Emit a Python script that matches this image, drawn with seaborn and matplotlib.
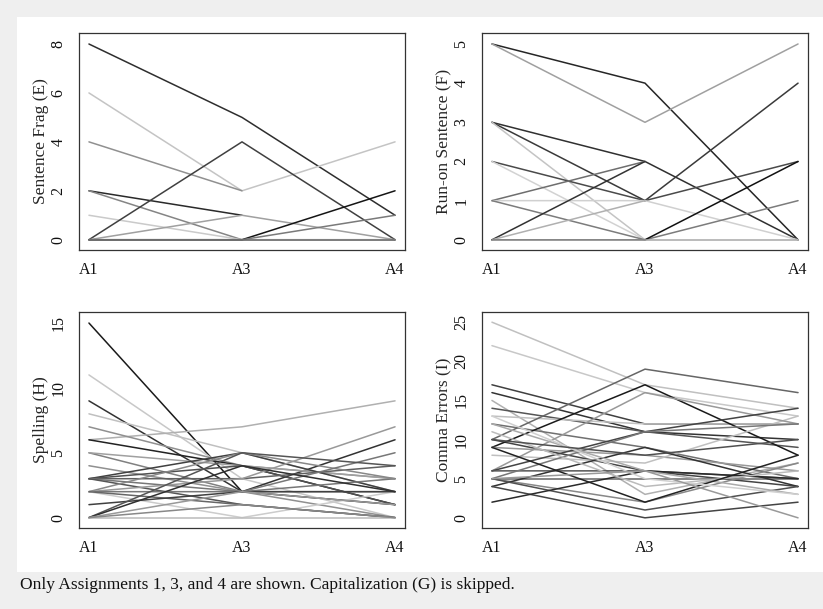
import numpy as np
import pandas as pd
import matplotlib
matplotlib.use("Agg")
import matplotlib.pyplot as plt
from matplotlib.patches import Rectangle
import seaborn as sns

nan = np.nan
assignments = ["A1", "A3", "A4"]

# ---- Sentence Frag (E)
e_a1 = [8, 6, 4, 2, 2, 1, 0, 0, 0, 0, 0]
e_a3 = [5, 2, 2, 1, 0, 0, 4, 1, 0, 0, 0]
e_a4 = [1, 4, nan, nan, 0, 0, 0, 0, 2, 1, 0]
e_col = ["#2e2e2e", "#c4c4c4", "#909090", "#2a2a2a", "#858585", "#cacaca",
         "#404040", "#a0a0a0", "#151515", "#7a7a7a", "#6a6a6a"]

# ---- Run-on Sentence (F)
f_a1 = [5, 5, 3, 3, 3, 2, 2, 1, 1, 1, 0, 0, 0, 0]
f_a3 = [4, 3, 2, 1, 0, 1, 0, 2, 1, 0, 2, 1, 0, 0]
f_a4 = [0, 5, 0, 4, nan, 2, nan, nan, 0, 1, nan, nan, 2, 0]
f_col = ["#262626", "#a0a0a0", "#303030", "#3a3a3a", "#c4c4c4", "#4a4a4a",
         "#d2d2d2", "#6e6e6e", "#d0d0d0", "#7c7c7c", "#333333", "#b0b0b0",
         "#111111", "#a8a8a8"]

# ---- Spelling (H)
h_a1 = [15, 11, 9, 8, 6, 7, 6, 5, 5, 4, 3, 3, 3, 3, 3, 2, 2, 2, 2, 2, 1, 0, 0, 0, 0, 0]
h_a3 = [2, 3, 2, 5, 7, 4, 4, 2, 4, 2, 5, 4, 3, 2, 1, 5, 3, 2, 0, 1, 2, 5, 4, 2, 0, 1]
h_a4 = [1, 0, 6, 2, 9, 3, 1, 2, 3, 0, 2, 1, 4, 3, 0, 3, 7, 5, 2, 0, 2, 4, 2, 1, 0, 0]
h_col = ["#1a1a1a", "#c8c8c8", "#333333", "#c0c0c0", "#b0b0b0", "#909090",
         "#222222", "#808080", "#a0a0a0", "#909090", "#404040", "#505050",
         "#606060", "#777777", "#555555", "#888888", "#999999", "#777777",
         "#cccccc", "#666666", "#404040", "#555555", "#303030", "#999999",
         "#bbbbbb", "#888888"]

# ---- Comma Errors (I)
i_a1 = [25, 22, 17, 16, 15, 14, 13, 12, 10, 10, 9, 9, 8, 6, 6, 6, 5, 5, 5,
        4, 4, 5, 2, 12, 11, 9, 13, 10, 5]
i_a3 = [17, 16, 12, 11, 3, 11, 12, 9, 19, 6, 17, 8, 7, 16, 11, 6, 5, 11, 2,
        9, 0, 1, 6, 6, 4, 2, 5, 8, 6]
i_a4 = [14, 13, 12, 10, 7, 9, 12, 5, 16, 4, 8, 6, 13, 12, 14, 5, 5, 12, 7,
        4, 2, 4, 5, 3, 6, 8, 3, 10, 0]
i_col = ["#c0c0c0", "#c8c8c8", "#404040", "#333333", "#b0b0b0", "#555555",
         "#c0c0c0", "#707070", "#666666", "#444444", "#1a1a1a", "#999999",
         "#c0c0c0", "#999999", "#444444", "#555555", "#666666", "#777777",
         "#888888", "#333333", "#444444", "#505050", "#2a2a2a", "#aaaaaa",
         "#bbbbbb", "#222222", "#d0d0d0", "#505050", "#999999"]

panels = [
    ("Sentence Frag (E)", e_a1, e_a3, e_a4, e_col, [0, 2, 4, 6, 8], (-0.42, 8.45)),
    ("Run-on Sentence (F)", f_a1, f_a3, f_a4, f_col, [0, 1, 2, 3, 4, 5], (-0.26, 5.28)),
    ("Spelling (H)", h_a1, h_a3, h_a4, h_col, [0, 5, 10, 15], (-0.8, 15.85)),
    ("Comma Errors (I)", i_a1, i_a3, i_a4, i_col, [0, 5, 10, 15, 20, 25], (-1.3, 26.3)),
]

sns.set_theme(style="white")
plt.rcParams["font.family"] = ["Liberation Serif", "DejaVu Serif"]

W, H = 823, 609
fig = plt.figure(figsize=(W / 100, H / 100), dpi=100, facecolor="#efefef")
fig.patches.append(Rectangle((17 / W, 37 / H), 1 - 17 / W, 555 / H,
                             transform=fig.transFigure, facecolor="white",
                             edgecolor="none", zorder=-10))

boxes = [(79, 33, 405, 250), (482, 33, 808, 250),
         (79, 312, 405, 528), (482, 312, 808, 528)]

for (label, a1, a3, a4, cols, yt, ylim), (x0, y0, x1, y1) in zip(panels, boxes):
    ax = fig.add_axes([x0 / W, (H - y1) / H, (x1 - x0) / W, (y1 - y0) / H])
    ax.set_zorder(1)
    rows = []
    for k in range(len(a1)):
        for p, v in enumerate([a1[k], a3[k], a4[k]]):
            rows.append({"line": k, "pos": p, "val": v})
    df = pd.DataFrame(rows).dropna()
    pal = {k: c for k, c in enumerate(cols)}
    sns.lineplot(data=df, x="pos", y="val", hue="line", palette=pal,
                 estimator=None, sort=False, legend=False, linewidth=1.1, ax=ax)
    ax.set_xlim(-0.065, 2.065)
    ax.set_ylim(*ylim)
    ax.set_xticks([0, 1, 2])
    ax.set_xticklabels(assignments)
    ax.set_yticks(yt)
    ax.set_yticklabels([str(t) for t in yt], rotation=90, va="center")
    ax.set_xlabel("")
    ax.set_ylabel(label, fontsize=12.5)
    ax.yaxis.set_label_coords(-0.092, 0.5)
    ax.tick_params(axis="both", direction="out", length=6, width=0.8,
                   color="#333333", labelsize=11.5, labelcolor="#111111")
    ax.tick_params(axis="x", pad=2.5)
    ax.tick_params(axis="y", pad=3)
    for s in ax.spines.values():
        s.set_visible(True)
        s.set_color("#333333")
        s.set_linewidth(0.9)
    ax.set_facecolor("white")

fig.text(20 / W, 1 - 585 / H,
         "Only Assignments 1, 3, and 4 are shown. Capitalization (G) is skipped.",
         fontsize=12.5, va="center", ha="left", color="#111111")

fig.savefig("out.png", dpi=100, facecolor=fig.get_facecolor())
